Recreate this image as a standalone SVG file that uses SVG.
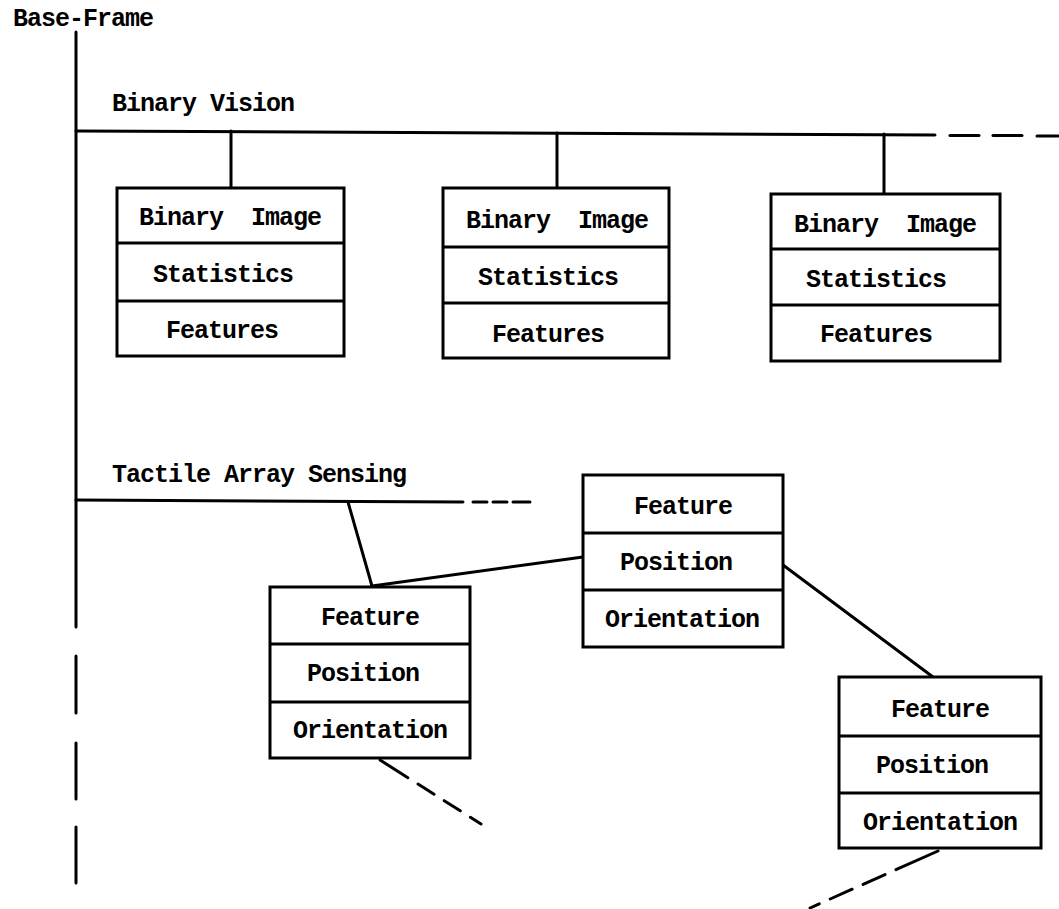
<svg xmlns="http://www.w3.org/2000/svg" width="1059" height="909" viewBox="0 0 1059 909">
  <style>
    .ln { stroke: #000; stroke-width: 3; fill: none; stroke-linecap: round; }
    .box { stroke: #000; stroke-width: 3; fill: #fff; }
    .div { stroke: #000; stroke-width: 3; }
    text { font-family: "Liberation Mono", "DejaVu Sans Mono", monospace; font-weight: bold; font-size: 25px; letter-spacing: -1px; fill: #000; }
    .c { text-anchor: middle; }
  </style>
  <rect width="1059" height="909" fill="#fff"/>

  <!-- frame labels -->
  <text x="13" y="26">Base-Frame</text>
  <text x="112" y="111">Binary Vision</text>
  <text x="112" y="482">Tactile Array Sensing</text>

  <g id="connectors">
    <!-- base frame trunk -->
    <line class="ln" x1="76" y1="32" x2="76" y2="627"/>
    <line class="ln" x1="76" y1="656" x2="76" y2="713"/>
    <line class="ln" x1="76" y1="743" x2="76" y2="799"/>
    <line class="ln" x1="76" y1="827" x2="76" y2="883"/>
    <!-- binary vision branch -->
    <line class="ln" x1="76" y1="131" x2="935" y2="135"/>
    <line class="ln" x1="950" y1="135.5" x2="979" y2="135.5"/>
    <line class="ln" x1="993" y1="135.5" x2="1022" y2="135.5"/>
    <line class="ln" x1="1037" y1="136" x2="1059" y2="136"/>
    <line class="ln" x1="231" y1="131" x2="231" y2="188"/>
    <line class="ln" x1="557" y1="133" x2="557" y2="188"/>
    <line class="ln" x1="884" y1="134" x2="884" y2="194"/>
    <!-- tactile sensing branch -->
    <line class="ln" x1="76" y1="500" x2="463" y2="502"/>
    <line class="ln" x1="473" y1="502" x2="487" y2="502"/>
    <line class="ln" x1="493" y1="502" x2="507" y2="502"/>
    <line class="ln" x1="513" y1="502" x2="530" y2="502"/>
    <line class="ln" x1="348" y1="502" x2="372" y2="586"/>
    <line class="ln" x1="372" y1="586" x2="583" y2="557"/>
    <line class="ln" x1="783" y1="565" x2="933" y2="677"/>
    <line class="ln" x1="380" y1="760" x2="481" y2="824" stroke-dasharray="33 12 19 12 19 12 19"/>
    <line class="ln" x1="938" y1="851" x2="810" y2="908" stroke-dasharray="46 12 24 12 24 12 24"/>
  </g>

  <g id="binary-1">
    <rect class="box" x="117" y="188" width="227" height="168"/>
    <line class="div" x1="117" y1="243" x2="344" y2="243"/>
    <line class="div" x1="117" y1="301" x2="344" y2="301"/>
    <text class="c" x="230" y="225" xml:space="preserve">Binary  Image</text>
    <text class="c" x="223" y="282">Statistics</text>
    <text class="c" x="222" y="338">Features</text>
  </g>

  <g id="binary-2">
    <rect class="box" x="443" y="188" width="226" height="170"/>
    <line class="div" x1="443" y1="247" x2="669" y2="247"/>
    <line class="div" x1="443" y1="303" x2="669" y2="303"/>
    <text class="c" x="557" y="228" xml:space="preserve">Binary  Image</text>
    <text class="c" x="548" y="285">Statistics</text>
    <text class="c" x="548" y="342">Features</text>
  </g>

  <g id="binary-3">
    <rect class="box" x="771" y="194" width="229" height="167"/>
    <line class="div" x1="771" y1="249" x2="1000" y2="249"/>
    <line class="div" x1="771" y1="305" x2="1000" y2="305"/>
    <text class="c" x="885" y="232" xml:space="preserve">Binary  Image</text>
    <text class="c" x="876" y="287">Statistics</text>
    <text class="c" x="876" y="342">Features</text>
  </g>

  <g id="tactile-1">
    <rect class="box" x="270" y="587" width="200" height="171"/>
    <line class="div" x1="270" y1="644" x2="470" y2="644"/>
    <line class="div" x1="270" y1="702" x2="470" y2="702"/>
    <text class="c" x="370" y="625">Feature</text>
    <text class="c" x="363" y="681">Position</text>
    <text class="c" x="370" y="738">Orientation</text>
  </g>

  <g id="tactile-2">
    <rect class="box" x="583" y="475" width="200" height="172"/>
    <line class="div" x1="583" y1="533" x2="783" y2="533"/>
    <line class="div" x1="583" y1="590" x2="783" y2="590"/>
    <text class="c" x="683" y="514">Feature</text>
    <text class="c" x="676" y="570">Position</text>
    <text class="c" x="682" y="627">Orientation</text>
  </g>

  <g id="tactile-3">
    <rect class="box" x="839" y="677" width="202" height="171"/>
    <line class="div" x1="839" y1="736" x2="1041" y2="736"/>
    <line class="div" x1="839" y1="793" x2="1041" y2="793"/>
    <text class="c" x="940" y="717">Feature</text>
    <text class="c" x="932" y="773">Position</text>
    <text class="c" x="940" y="830">Orientation</text>
  </g>
</svg>
